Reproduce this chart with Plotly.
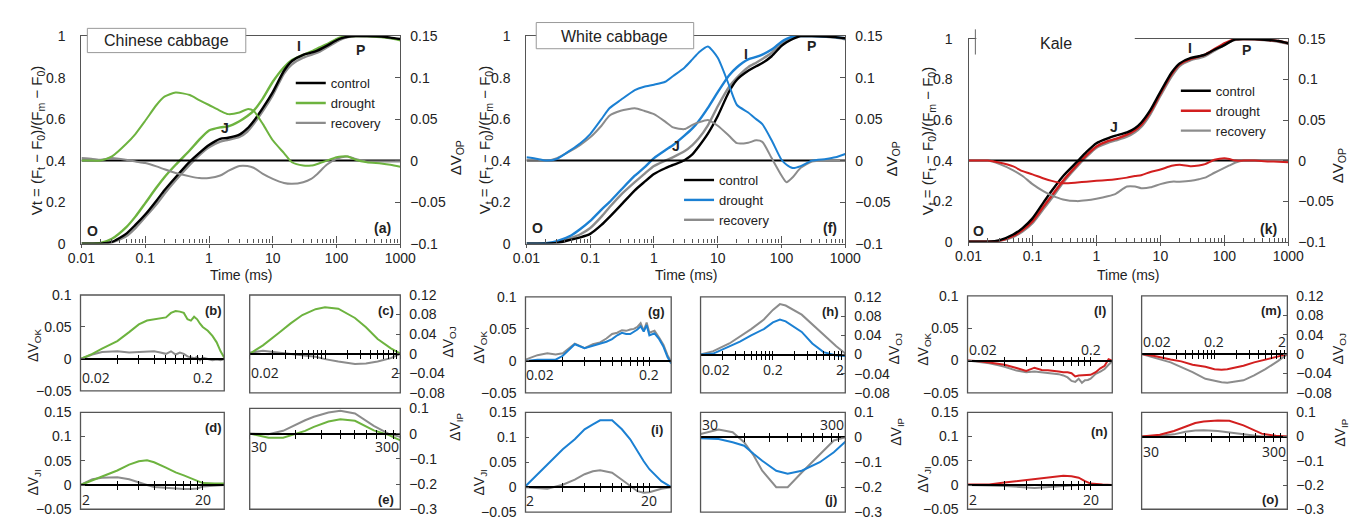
import math
import plotly.graph_objects as go

W, H = 1363, 525

# ---------------- main OJIP panels: time axis (ms) ----------------
T_MAIN = [0.01, 0.015, 0.02, 0.03, 0.05, 0.07, 0.1, 0.15, 0.2, 0.3,
          0.5, 0.7, 1, 1.5, 2, 3, 4, 5, 7, 10,
          15, 20, 30, 40, 50, 70, 100, 120, 150, 200,
          300, 500, 700, 1000]
T_ZERO = [0.01, 1000]
DV_CONTROL = [0, 0]

# Chinese cabbage
CC_VT_CONTROL = [0, 0, 0, 0.008, 0.047, 0.09, 0.14, 0.207, 0.257, 0.32,
                 0.395, 0.436, 0.475, 0.505, 0.51, 0.525, 0.555, 0.59, 0.654, 0.73,
                 0.833, 0.88, 0.91, 0.92, 0.93, 0.953, 0.98, 0.99, 0.997, 1.0,
                 1.0, 0.998, 0.993, 0.986]
CC_VT_DROUGHT = [0, 0, 0.003, 0.023, 0.078, 0.13, 0.195, 0.27, 0.32, 0.38,
                 0.45, 0.5, 0.545, 0.56, 0.565, 0.59, 0.615, 0.64, 0.70, 0.78,
                 0.85, 0.885, 0.91, 0.925, 0.94, 0.96, 0.986, 0.995, 1.0, 1.0,
                 1.0, 0.995, 0.99, 0.98]
CC_VT_RECOVERY = [0, 0, 0, 0.005, 0.035, 0.075, 0.128, 0.19, 0.24, 0.305,
                  0.38, 0.425, 0.464, 0.492, 0.50, 0.514, 0.54, 0.576, 0.64, 0.716,
                  0.82, 0.864, 0.896, 0.91, 0.92, 0.945, 0.973, 0.985, 0.995, 1.0,
                  0.999, 0.997, 0.99, 0.984]
CC_DV_DROUGHT = [0, 0, 0, 0.005, 0.02, 0.032, 0.048, 0.067, 0.077, 0.082,
                 0.079, 0.073, 0.067, 0.06, 0.056, 0.058, 0.062, 0.06, 0.044, 0.0245,
                 0.009, -0.002, -0.006, -0.006, -0.004, 0, 0.004, 0.005, 0.005, 0.001,
                 -0.002, -0.0035, -0.005, -0.0075]
CC_DV_RECOVERY = [0.003, 0.002, 0.001, 0.003, 0.001, -0.001, -0.003, -0.007, -0.0105, -0.015,
                  -0.019, -0.021, -0.021, -0.018, -0.0125, -0.0066, -0.0066, -0.0086, -0.016, -0.022,
                  -0.027, -0.028, -0.026, -0.022, -0.016, -0.005, 0.002, 0.004, 0.005, 0.002,
                  -0.001, -0.001, -0.001, -0.001]

# White cabbage
WC_VT_CONTROL = [0, 0, 0, 0.003, 0.019, 0.03, 0.047, 0.09, 0.128, 0.184,
                 0.257, 0.296, 0.335, 0.363, 0.379, 0.402, 0.43, 0.467, 0.53, 0.615,
                 0.732, 0.79, 0.833, 0.855, 0.87, 0.903, 0.953, 0.97, 0.986, 1.0,
                 1.0, 0.998, 0.995, 0.99]
WC_VT_DROUGHT = [0, 0, 0.002, 0.012, 0.039, 0.07, 0.109, 0.164, 0.2, 0.257,
                 0.327, 0.366, 0.412, 0.45, 0.475, 0.52, 0.555, 0.59, 0.654, 0.73,
                 0.81, 0.85, 0.888, 0.90, 0.911, 0.935, 0.973, 0.987, 0.997, 1.0,
                 1.0, 0.998, 0.995, 0.99]
WC_VT_RECOVERY = [0, 0, 0, 0.008, 0.028, 0.045, 0.075, 0.13, 0.175, 0.234,
                  0.296, 0.335, 0.374, 0.40, 0.417, 0.445, 0.475, 0.506, 0.57, 0.662,
                  0.755, 0.80, 0.85, 0.872, 0.89, 0.92, 0.966, 0.982, 0.994, 1.0,
                  1.0, 0.997, 0.993, 0.985]
WC_DV_DROUGHT = [0.004, 0.002, 0, 0.002, 0.013, 0.021, 0.032, 0.05, 0.063, 0.073,
                 0.085, 0.089, 0.0915, 0.095, 0.102, 0.112, 0.122, 0.13, 0.1375, 0.124,
                 0.091, 0.067, 0.058, 0.05, 0.044, 0.0245, 0.001, -0.005, -0.009, -0.0066,
                 0, 0.002, 0.004, 0.008]
WC_DV_RECOVERY = [0.001, 0.001, 0, 0.003, 0.012, 0.019, 0.028, 0.042, 0.054, 0.06,
                  0.063, 0.06, 0.056, 0.047, 0.04, 0.038, 0.043, 0.046, 0.049, 0.042,
                  0.03, 0.021, 0.0215, 0.0245, 0.0226, 0.003, -0.018, -0.026, -0.02, -0.0086,
                  -0.001, 0, 0, 0]

# Kale
KA_VT_CONTROL = [0, 0, 0, 0.006, 0.035, 0.067, 0.115, 0.195, 0.251, 0.323,
                 0.395, 0.443, 0.486, 0.51, 0.523, 0.539, 0.56, 0.587, 0.65, 0.739,
                 0.835, 0.88, 0.907, 0.915, 0.923, 0.947, 0.97, 0.985, 0.998, 1.0,
                 1.0, 0.995, 0.99, 0.979]
KA_VT_DROUGHT = [0, 0, 0, 0.004, 0.028, 0.057, 0.1, 0.175, 0.227, 0.3,
                 0.379, 0.427, 0.47, 0.496, 0.507, 0.528, 0.55, 0.576, 0.64, 0.731,
                 0.827, 0.875, 0.902, 0.913, 0.923, 0.95, 0.979, 0.99, 1.0, 1.0,
                 1.0, 0.995, 0.99, 0.979]
KA_VT_RECOVERY = [0, 0, 0, 0.003, 0.024, 0.05, 0.091, 0.163, 0.214, 0.291,
                  0.371, 0.419, 0.464, 0.488, 0.5, 0.518, 0.54, 0.566, 0.63, 0.72,
                  0.816, 0.867, 0.896, 0.906, 0.915, 0.942, 0.97, 0.985, 0.996, 1.0,
                  0.998, 0.993, 0.986, 0.976]
KA_DV_DROUGHT = [0, 0, 0, -0.0024, -0.0072, -0.013, -0.017, -0.022, -0.025, -0.028,
                 -0.027, -0.026, -0.025, -0.024, -0.023, -0.021, -0.019, -0.018, -0.014, -0.011,
                 -0.0064, -0.005, -0.007, -0.006, -0.0044, 0.001, 0.003, 0.002, 0, 0,
                 0, -0.001, -0.0015, -0.002]
KA_DV_RECOVERY = [0, 0, 0, -0.004, -0.012, -0.019, -0.029, -0.038, -0.043, -0.048,
                  -0.05, -0.049, -0.047, -0.044, -0.041, -0.032, -0.032, -0.034, -0.033, -0.029,
                  -0.026, -0.026, -0.025, -0.023, -0.021, -0.015, -0.009, -0.006, -0.0024, 0,
                  0, 0, 0, 0]

# ---------------- phase difference panels ----------------
T_OK = [0.02, 0.025, 0.03, 0.035, 0.04, 0.05, 0.06, 0.07, 0.08, 0.09,
        0.1, 0.11, 0.12, 0.13, 0.14, 0.15, 0.16, 0.17, 0.18, 0.19,
        0.2, 0.22, 0.24, 0.26, 0.28, 0.3]
T_OJ = [0.02, 0.03, 0.05, 0.07, 0.1, 0.15, 0.2, 0.25, 0.3, 0.5, 0.7, 1, 1.5, 2]
T_JI = [2, 2.5, 3, 4, 5, 6, 7, 8, 10, 12, 14, 16, 18, 20, 25, 30]
T_IP = [30, 40, 50, 60, 70, 80, 100, 120, 150, 200, 250, 300]

CC_OK_DROUGHT = [0, 0.008, 0.016, 0.022, 0.028, 0.042, 0.054, 0.06, 0.062, 0.063,
                 0.065, 0.072, 0.075, 0.074, 0.072, 0.062, 0.06, 0.066, 0.062, 0.055,
                 0.05, 0.044, 0.036, 0.026, 0.012, 0.002]
CC_OK_RECOVERY = [0, 0.007, 0.011, 0.012, 0.012, 0.01, 0.011, 0.012, 0.012, 0.01,
                  0.008, 0.012, 0.007, 0.01, 0.008, 0.004, 0.002, 0.001, 0.003, -0.002,
                  0.002, 0, -0.002, -0.001, -0.002, 0]
WC_OK_DROUGHT = [0, 0.002, 0.002, 0.002, 0.008, 0.026, 0.02, 0.024, 0.027, 0.03,
                 0.034, 0.04, 0.044, 0.042, 0.042, 0.046, 0.049, 0.054, 0.046, 0.056,
                 0.04, 0.043, 0.034, 0.022, 0.006, -0.004]
WC_OK_RECOVERY = [0.002, 0.009, 0.012, 0.01, 0.012, 0.027, 0.02, 0.026, 0.029, 0.035,
                  0.042, 0.044, 0.048, 0.047, 0.049, 0.05, 0.053, 0.059, 0.047, 0.06,
                  0.044, 0.047, 0.036, 0.025, 0.009, -0.002]
KA_OK_DROUGHT = [0, -0.001, -0.003, -0.005, -0.0065, -0.0115, -0.016, -0.011, -0.0145, -0.015,
                 -0.0155, -0.017, -0.018, -0.018, -0.0195, -0.0245, -0.023, -0.023, -0.023, -0.023,
                 -0.022, -0.018, -0.012, -0.008, 0.002, 0]
KA_OK_RECOVERY = [0, -0.002, -0.004, -0.007, -0.0095, -0.0155, -0.018, -0.017, -0.018, -0.019,
                  -0.0205, -0.021, -0.023, -0.026, -0.0315, -0.033, -0.028, -0.0345, -0.0305, -0.03,
                  -0.028, -0.0205, -0.017, -0.013, -0.0065, -0.001]

CC_OJ_DROUGHT = [0, 0.017, 0.044, 0.062, 0.079, 0.091, 0.095, 0.094, 0.092, 0.073, 0.054, 0.03, 0.011, 0]
CC_OJ_RECOVERY = [0.002, 0.006, 0.002, 0, -0.003, -0.006, -0.011, -0.014, -0.016, -0.021, -0.02, -0.016, -0.009, 0]
WC_OJ_DROUGHT = [0, 0.002, 0.017, 0.027, 0.04, 0.053, 0.067, 0.073, 0.069, 0.047, 0.023, 0.005, -0.002, -0.003]
WC_OJ_RECOVERY = [0, 0.007, 0.023, 0.037, 0.053, 0.073, 0.093, 0.105, 0.102, 0.083, 0.063, 0.04, 0.017, 0.002]
KA_OJ_DROUGHT = [0, -0.004, -0.011, -0.015, -0.022, -0.026, -0.031, -0.032, -0.031, -0.024, -0.017, -0.011, -0.004, 0]
KA_OJ_RECOVERY = [0, -0.007, -0.017, -0.027, -0.037, -0.051, -0.055, -0.058, -0.059, -0.054, -0.044, -0.031, -0.014, 0]

CC_JI_DROUGHT = [0, 0.01, 0.017, 0.03, 0.042, 0.049, 0.051, 0.047, 0.036, 0.026, 0.02, 0.014, 0.009, 0.004, 0.003, 0.003]
CC_JI_RECOVERY = [0, 0.012, 0.015, 0.016, 0.012, 0.005, 0, -0.004, -0.006, -0.008, -0.008, -0.008, -0.007, -0.003, -0.001, 0]
WC_JI_DROUGHT = [0.002, 0.026, 0.046, 0.076, 0.096, 0.116, 0.126, 0.134, 0.134, 0.116, 0.096, 0.072, 0.052, 0.036, 0.012, 0]
WC_JI_RECOVERY = [0, -0.002, -0.003, 0.005, 0.015, 0.026, 0.032, 0.034, 0.029, 0.015, 0.002, -0.008, -0.011, -0.01, -0.003, 0]
KA_JI_DROUGHT = [0.001, 0.001, 0.001, 0.005, 0.008, 0.011, 0.013, 0.015, 0.018, 0.019, 0.018, 0.015, 0.008, 0.003, 0.001, 0]
KA_JI_RECOVERY = [0, 0, -0.001, -0.002, -0.003, -0.005, -0.006, -0.005, -0.003, -0.002, -0.001, 0, 0, 0, 0, 0]

CC_IP_DROUGHT = [0, -0.016, -0.016, -0.003, 0.011, 0.027, 0.048, 0.057, 0.051, 0.013, -0.005, -0.027]
CC_IP_RECOVERY = [0, -0.002, 0.011, 0.035, 0.053, 0.067, 0.084, 0.091, 0.08, 0.031, 0, -0.013]
WC_IP_DROUGHT = [-0.004, -0.007, -0.02, -0.034, -0.067, -0.094, -0.134, -0.146, -0.134, -0.1, -0.06, -0.018]
WC_IP_RECOVERY = [0.013, 0.031, 0.02, -0.02, -0.074, -0.134, -0.2, -0.2, -0.141, -0.067, -0.013, 0]
KA_IP_DROUGHT = [0, 0.007, 0.023, 0.042, 0.056, 0.062, 0.066, 0.065, 0.046, 0.012, 0.003, 0]
KA_IP_RECOVERY = [0, 0.003, 0.009, 0.02, 0.025, 0.026, 0.023, 0.017, 0.009, 0, 0, 0]

SERIES_NAMES = ["control", "drought", "recovery"]
MAIN_TICKS = [0.01, 0.1, 1, 10, 100, 1000]
MAIN_TICKTEXT = ["0.01", "0.1", "1", "10", "100", "1000"]
VT_TICKS = [0, 0.2, 0.4, 0.6, 0.8, 1]
VT_TICKTEXT = ["0", "0.2", "0.4", "0.6", "0.8", "1"]
DV_TICKS = [-0.1, -0.05, 0, 0.05, 0.1, 0.15]

# ---------------- styling ----------------
FONT = "Liberation Sans, Arial, sans-serif"
SMALL_FONT = "Open Sans, Liberation Sans, sans-serif"
AX = "#555555"
TXT = "#222222"
BLACK = "#000000"
GRAY = "#8c8c8c"
GREEN = "#6db33f"
BLUE = "#1b80d3"
RED = "#d21f1f"


def px_x(px):
    return px / W


def px_y(py):
    return 1 - py / H


MAIN_PANELS = [
    dict(box=(69, 395, 29, 243), color=GREEN, legend="legend",
         vt=(CC_VT_CONTROL, CC_VT_DROUGHT, CC_VT_RECOVERY),
         dv=(CC_DV_DROUGHT, CC_DV_RECOVERY),
         ytitle="Vt = (F<sub>t</sub> − F<sub>0</sub>)/(F<sub>m</sub> − F<sub>0</sub>)",
         ytitle_xy=(24, 136), y2title_xy=(452, 155), xtitle_xy=(232, 275),
         legend_xy=(283, 62),
         labels=[("O", 80, 230), ("J", 216, 124), ("I", 291, 39), ("P", 354, 43), ("(a)", 377, 227)]),
    dict(box=(524, 850, 29, 243), color=BLUE, legend="legend2",
         vt=(WC_VT_CONTROL, WC_VT_DROUGHT, WC_VT_RECOVERY),
         dv=(WC_DV_DROUGHT, WC_DV_RECOVERY),
         ytitle="V<sub>t</sub> = (F<sub>t</sub> − F<sub>0</sub>)/(F<sub>m</sub> − F<sub>0</sub>)",
         ytitle_xy=(482, 136), y2title_xy=(898, 156), xtitle_xy=(687, 275),
         legend_xy=(680, 162),
         labels=[("O", 535, 227), ("J", 677, 142), ("I", 748, 47), ("P", 815, 39), ("(f)", 834, 227)]),
    dict(box=(976, 1303, 32, 241), color=RED, legend="legend3",
         vt=(KA_VT_CONTROL, KA_VT_DROUGHT, KA_VT_RECOVERY),
         dv=(KA_DV_DROUGHT, KA_DV_RECOVERY),
         ytitle="V<sub>t</sub> = (F<sub>t</sub> − F<sub>0</sub>)/(F<sub>m</sub> − F<sub>0</sub>)",
         ytitle_xy=(935, 137), y2title_xy=(1354, 163), xtitle_xy=(1139, 275),
         legend_xy=(1188, 70),
         labels=[("O", 986, 230), ("J", 1125, 123), ("I", 1202, 41), ("P", 1260, 43), ("(k)", 1283, 228)]),
]

OK_LABELS = [("0.02", "left"), ("0.2", "center")]
OJ_LABELS_SHORT = [("0.02", "left"), ("2", "right")]
OJ_LABELS = [("0.02", "left"), ("0.2", "center"), ("2", "right")]
JI_LABELS = [("2", "left"), ("20", "center")]
IP_LABELS = [("30", "left"), ("300", "right")]

OK_YTICKS = [-0.05, 0, 0.05, 0.1]
OJ_YTICKS = [-0.08, -0.04, 0, 0.04, 0.08, 0.12]
JI_YTICKS = [-0.05, 0, 0.05, 0.1, 0.15]
IP_YTICKS = [-0.3, -0.2, -0.1, 0, 0.1]

SMALL_PANELS = [
    # Chinese cabbage
    dict(box=(68, 215, 296, 395), side="left", t=T_OK, xr=(0.02, 0.3), yr=(-0.05, 0.1), yt=OK_YTICKS,
         d=CC_OK_DROUGHT, r=CC_OK_RECOVERY, color=GREEN, xl=OK_LABELS, off=19, tag=("(b)", 204, 312)),
    dict(box=(241, 395, 296, 397), side="right", t=T_OJ, xr=(0.02, 2), yr=(-0.08, 0.12), yt=OJ_YTICKS,
         d=CC_OJ_DROUGHT, r=CC_OJ_RECOVERY, color=GREEN, xl=OJ_LABELS_SHORT, off=19, tag=("(c)", 380, 312)),
    dict(box=(68, 215, 417, 517), side="left", t=T_JI, xr=(2, 30), yr=(-0.05, 0.15), yt=JI_YTICKS,
         d=CC_JI_DROUGHT, r=CC_JI_RECOVERY, color=GREEN, xl=JI_LABELS, off=15, tag=("(d)", 204, 433)),
    dict(box=(241, 395, 413, 517), side="right", t=T_IP, xr=(30, 300), yr=(-0.3, 0.1), yt=IP_YTICKS,
         d=CC_IP_DROUGHT, r=CC_IP_RECOVERY, color=GREEN, xl=IP_LABELS, off=13, tag=("(e)", 380, 507)),
    # White cabbage
    dict(box=(523, 672, 298, 397), side="left", t=T_OK, xr=(0.02, 0.3), yr=(-0.05, 0.1), yt=OK_YTICKS,
         d=WC_OK_DROUGHT, r=WC_OK_RECOVERY, color=BLUE, xl=OK_LABELS, off=14, tag=("(g)", 657, 313)),
    dict(box=(702, 850, 298, 397), side="right", t=T_OJ, xr=(0.02, 2), yr=(-0.08, 0.12), yt=OJ_YTICKS,
         d=WC_OJ_DROUGHT, r=WC_OJ_RECOVERY, color=BLUE, xl=OJ_LABELS, off=15, tag=("(h)", 835, 313)),
    dict(box=(523, 672, 417, 520), side="left", t=T_JI, xr=(2, 30), yr=(-0.05, 0.15), yt=JI_YTICKS,
         d=WC_JI_DROUGHT, r=WC_JI_RECOVERY, color=BLUE, xl=JI_LABELS, off=14, tag=("(i)", 657, 435)),
    dict(box=(702, 850, 417, 520), side="right", t=T_IP, xr=(30, 300), yr=(-0.3, 0.1), yt=IP_YTICKS,
         d=WC_IP_DROUGHT, r=WC_IP_RECOVERY, color=BLUE, xl=IP_LABELS, off=-13, tag=("(j)", 835, 507)),
    # Kale
    dict(box=(975, 1123, 297, 397), side="left", t=T_OK, xr=(0.02, 0.3), yr=(-0.05, 0.1), yt=OK_YTICKS,
         d=KA_OK_DROUGHT, r=KA_OK_RECOVERY, color=RED, xl=OK_LABELS, off=-11, tag=("(l)", 1110, 312)),
    dict(box=(1153, 1302, 297, 397), side="right", t=T_OJ, xr=(0.02, 2), yr=(-0.08, 0.12), yt=OJ_YTICKS,
         d=KA_OJ_DROUGHT, r=KA_OJ_RECOVERY, color=RED, xl=OJ_LABELS, off=-13, tag=("(m)", 1285, 312)),
    dict(box=(975, 1123, 417, 517), side="left", t=T_JI, xr=(2, 30), yr=(-0.05, 0.15), yt=JI_YTICKS,
         d=KA_JI_DROUGHT, r=KA_JI_RECOVERY, color=RED, xl=JI_LABELS, off=15, tag=("(n)", 1110, 437)),
    dict(box=(1153, 1302, 417, 517), side="right", t=T_IP, xr=(30, 300), yr=(-0.3, 0.1), yt=IP_YTICKS,
         d=KA_IP_DROUGHT, r=KA_IP_RECOVERY, color=RED, xl=IP_LABELS, off=15, tag=("(o)", 1285, 507)),
]

SMALL_YTITLES = [
    ("ΔV<sub>OK</sub>", 21, 348), ("ΔV<sub>JI</sub>", 21, 490),
    ("ΔV<sub>OJ</sub>", 445, 345), ("ΔV<sub>IP</sub>", 452, 432),
    ("ΔV<sub>OK</sub>", 477, 350), ("ΔV<sub>JI</sub>", 477, 490),
    ("ΔV<sub>OJ</sub>", 901, 352), ("ΔV<sub>IP</sub>", 903, 437),
    ("ΔV<sub>OK</sub>", 931, 352), ("ΔV<sub>JI</sub>", 931, 487),
    ("ΔV<sub>OJ</sub>", 1355, 352), ("ΔV<sub>IP</sub>", 1357, 438),
]

fig = go.Figure()
layout = {}
shapes = []
annotations = []
counters = {"x": 0, "y": 0}


def next_axis(kind):
    counters[kind] += 1
    n = counters[kind]
    if n == 1:
        return kind, kind + "axis"
    return f"{kind}{n}", f"{kind}axis{n}"


def text_note(text, x, y, size=14, bold=False, angle=0, family=FONT, xanchor="center"):
    annotations.append(dict(
        text=f"<b>{text}</b>" if bold else text, x=px_x(x), y=px_y(y),
        xref="paper", yref="paper", xanchor=xanchor, yanchor="middle",
        showarrow=False, textangle=angle, font=dict(family=family, size=size, color=TXT)))


minor_main = [k * 10.0 ** e for e in range(-2, 3) for k in range(2, 10)]

# ---------------- main panels ----------------
for p in MAIN_PANELS:
    xid, xkey = next_axis("x")
    xoid, xokey = next_axis("x")
    yid, ykey = next_axis("y")
    y2id, y2key = next_axis("y")
    x0, x1, yt, yb = p["box"]
    layout[xkey] = dict(
        domain=[px_x(x0), px_x(x1)], anchor=yid, type="log", range=[-2, 3],
        showline=True, mirror=True, linecolor=AX, linewidth=1.3,
        tickvals=MAIN_TICKS, ticktext=MAIN_TICKTEXT, ticks="inside", ticklen=7,
        tickwidth=1.2, tickcolor=AX,
        minor=dict(tickvals=minor_main, ticks="inside", ticklen=4, tickcolor=AX, tickwidth=1),
        showgrid=False, zeroline=False, ticklabelstandoff=1,
        tickfont=dict(family=FONT, size=14, color=TXT))
    # decade ticks also reach a little below the time axis
    layout[xokey] = dict(
        domain=[px_x(x0), px_x(x1)], anchor=yid, overlaying=xid, type="log", range=[-2, 3],
        tickvals=MAIN_TICKS, ticks="outside", ticklen=3, tickwidth=1.2, tickcolor=AX,
        showticklabels=False, showline=False, showgrid=False, zeroline=False)
    layout[ykey] = dict(
        domain=[px_y(yb), px_y(yt)], anchor=xid, range=[0, 1],
        tickvals=VT_TICKS, ticktext=VT_TICKTEXT, ticks="", showline=True,
        linecolor=AX, linewidth=1.3, showgrid=False, zeroline=False,
        ticklabelstandoff=12, tickfont=dict(family=FONT, size=14, color=TXT))
    layout[y2key] = dict(
        overlaying=yid, side="right", anchor=xid, range=[-0.1, 0.15],
        tickvals=DV_TICKS, ticks="inside", ticklen=5, tickcolor=AX, showline=True,
        linecolor=AX, linewidth=1.3, showgrid=False, zeroline=False,
        ticklabelstandoff=6, tickfont=dict(family=FONT, size=14, color=TXT))

    colors = [BLACK, p["color"], GRAY]
    fig.add_trace(go.Scatter(x=[None], y=[None], xaxis=xoid, yaxis=yid, mode="lines",
                             showlegend=False, hoverinfo="skip"))
    # difference curves on the right axis
    fig.add_trace(go.Scatter(x=T_ZERO, y=DV_CONTROL, mode="lines", xaxis=xid, yaxis=y2id,
                             line=dict(color=BLACK, width=2), showlegend=False, hoverinfo="skip"))
    for vals, col in zip(p["dv"][::-1], [GRAY, p["color"]]):
        fig.add_trace(go.Scatter(x=T_MAIN, y=vals, mode="lines", xaxis=xid, yaxis=y2id,
                                 line=dict(color=col, width=2, shape="spline", smoothing=0.6),
                                 showlegend=False, hoverinfo="skip"))
    # fluorescence transients on the left axis
    for i in [2, 1, 0]:
        fig.add_trace(go.Scatter(x=T_MAIN, y=p["vt"][i], mode="lines", name=SERIES_NAMES[i],
                                 xaxis=xid, yaxis=yid, legend=p["legend"], legendrank=i + 1,
                                 line=dict(color=colors[i], width=2.4, shape="spline", smoothing=0.6)))
    lx, ly = p["legend_xy"]
    layout[p["legend"]] = dict(x=px_x(lx), y=px_y(ly), xanchor="left", yanchor="top",
                               bgcolor="rgba(0,0,0,0)", tracegroupgap=0, itemwidth=30,
                               font=dict(family=FONT, size=13, color=TXT))

    text_note(p["ytitle"], *p["ytitle_xy"], size=15, angle=-90)
    text_note("ΔV<sub>OP</sub>", *p["y2title_xy"], size=15, angle=-90)
    text_note("Time (ms)", *p["xtitle_xy"], size=14)
    for lab, lx_, ly_ in p["labels"]:
        text_note(lab, lx_, ly_, size=14, bold=True)

# titles of the three species
shapes.append(dict(type="rect", xref="paper", yref="paper", x0=px_x(75), x1=px_x(237),
                   y0=px_y(46), y1=px_y(21), fillcolor="white", line=dict(color="#999999", width=1),
                   layer="above"))
text_note("Chinese cabbage", 156, 34, size=16)
shapes.append(dict(type="rect", xref="paper", yref="paper", x0=px_x(534), x1=px_x(695),
                   y0=px_y(42), y1=px_y(15), fillcolor="white", line=dict(color="#999999", width=1),
                   layer="above"))
text_note("White cabbage", 614.5, 29, size=16)
shapes.append(dict(type="rect", xref="paper", yref="paper", x0=px_x(984), x1=px_x(1146),
                   y0=px_y(36), y1=px_y(28), fillcolor="white", line=dict(width=0),
                   layer="above"))
shapes.append(dict(type="line", xref="paper", yref="paper", x0=px_x(983), x1=px_x(983),
                   y0=px_y(48), y1=px_y(22), line=dict(color="#666666", width=1), layer="above"))
text_note("Kale", 1065, 37, size=16)

# ---------------- phase difference panels ----------------
for s in SMALL_PANELS:
    xid, xkey = next_axis("x")
    xoid, xokey = next_axis("x")
    yid, ykey = next_axis("y")
    x0, x1, yt, yb = s["box"]
    ylo, yhi = s["yr"]
    dom_y = [px_y(yb), px_y(yt)]
    zero_pos = dom_y[0] + (0 - ylo) / (yhi - ylo) * (dom_y[1] - dom_y[0])
    lo, hi = s["xr"]
    xrange_log = [math.log10(lo), math.log10(hi)]
    xticks = [lo * 10 ** i * k for i in range(3) for k in range(1, 10) if lo * 10 ** i * k <= hi * 1.0001]
    common_x = dict(domain=[px_x(x0), px_x(x1)], anchor="free", position=zero_pos, type="log",
                    range=xrange_log, tickvals=xticks, showticklabels=False, showgrid=False,
                    zeroline=False, tickcolor=BLACK, tickwidth=1.2, ticklen=4)
    layout[xkey] = dict(common_x, showline=True, linecolor=BLACK, linewidth=2, ticks="outside")
    layout[xokey] = dict(common_x, overlaying=xid, showline=False, ticks="inside")
    eps = (yhi - ylo) * 1e-6
    layout[ykey] = dict(domain=dom_y, anchor=xid, side=s["side"], range=[ylo - eps, yhi + eps],
                        tickvals=s["yt"], ticks="inside", ticklen=4, tickcolor=AX, showline=False,
                        showgrid=False, zeroline=False, ticklabelstandoff=8,
                        tickfont=dict(family=FONT, size=14, color=TXT))
    shapes.append(dict(type="rect", xref=f"{xid} domain", yref=f"{yid} domain",
                       x0=0, x1=1, y0=0, y1=1, line=dict(color=AX, width=1.3), layer="above"))
    fig.add_trace(go.Scatter(x=s["t"], y=s["r"], mode="lines", xaxis=xid, yaxis=yid,
                             line=dict(color=GRAY, width=2), showlegend=False, hoverinfo="skip"))
    fig.add_trace(go.Scatter(x=s["t"], y=s["d"], mode="lines", xaxis=xid, yaxis=yid,
                             line=dict(color=s["color"], width=2), showlegend=False, hoverinfo="skip"))
    fig.add_trace(go.Scatter(x=[None], y=[None], xaxis=xoid, yaxis=yid, mode="lines",
                             showlegend=False, hoverinfo="skip"))
    for lab, anchor in s["xl"]:
        annotations.append(dict(
            text=lab, x=math.log10(float(lab)), xref=xid, y=zero_pos - s["off"] / H, yref="paper",
            xanchor=anchor, yanchor="middle", showarrow=False, borderpad=0,
            font=dict(family=SMALL_FONT, size=14, color=TXT)))
    text_note(*s["tag"], size=13, bold=True)

for txt, tx, ty in SMALL_YTITLES:
    text_note(txt, tx, ty, size=14, angle=-90)

layout.update(
    width=W, height=H, autosize=False,
    margin=dict(l=0, r=0, t=0, b=0),
    paper_bgcolor="white", plot_bgcolor="rgba(0,0,0,0)",
    font=dict(family=FONT, size=14, color=TXT),
    shapes=shapes, annotations=annotations,
    hovermode=False,
)
fig.update_layout(**layout)
# page without the default body margin so the figure fills the window exactly
fig.write_html("out.html", config={"responsive": False},
               post_script="document.body.style.margin='0px';document.body.style.overflow='hidden';")
